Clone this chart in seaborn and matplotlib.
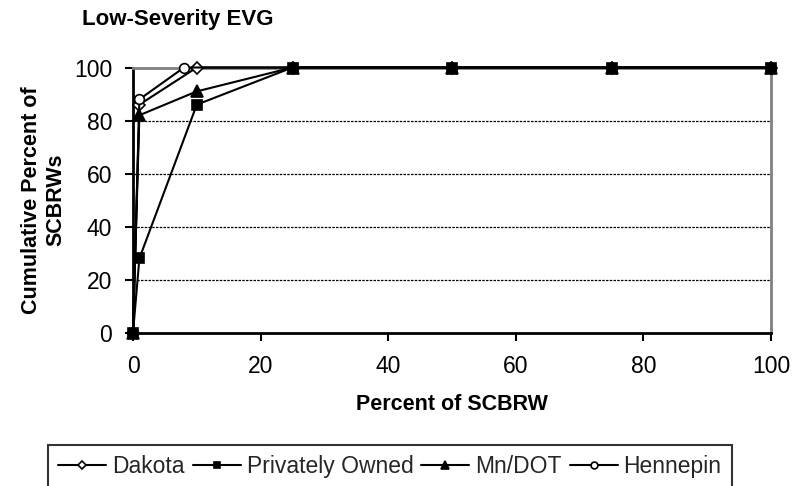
import matplotlib
matplotlib.use("Agg")
import matplotlib.pyplot as plt
import seaborn as sns
import pandas as pd

# Cumulative distribution of SCBRWs by percent of SCBRW, per owner
dakota_x = [0, 1, 10, 25, 50, 75, 100]
dakota_y = [0, 86, 100, 100, 100, 100, 100]

private_x = [0, 1, 10, 25, 50, 75, 100]
private_y = [0, 28, 86, 100, 100, 100, 100]

mndot_x = [0, 1, 10, 25, 50, 75, 100]
mndot_y = [0, 82, 91, 100, 100, 100, 100]

hennepin_x = [0, 1, 8, 25, 50, 75, 100]
hennepin_y = [0, 88, 100, 100, 100, 100, 100]

series_names = ["Dakota", "Privately Owned", "Mn/DOT", "Hennepin"]
x_ticks = [0, 20, 40, 60, 80, 100]
y_ticks = [0, 20, 40, 60, 80, 100]

sns.set_theme(style="white")
plt.rcParams["font.family"] = ["Liberation Sans", "DejaVu Sans"]

fig = plt.figure(figsize=(7.94, 4.86), dpi=100)
ax = fig.add_axes([133 / 794, 1 - 332.7 / 486, (771 - 133) / 794, (332.7 - 67.5) / 486])

styles = {
    "Dakota": dict(marker="D", markerfacecolor="white", markersize=6, zorder=3),
    "Privately Owned": dict(marker="s", markerfacecolor="black", markersize=7, zorder=6),
    "Mn/DOT": dict(marker="^", markerfacecolor="black", markersize=8, zorder=4),
    "Hennepin": dict(marker="o", markerfacecolor="white", markersize=7, zorder=5),
}
data = {
    "Dakota": (dakota_x, dakota_y),
    "Privately Owned": (private_x, private_y),
    "Mn/DOT": (mndot_x, mndot_y),
    "Hennepin": (hennepin_x, hennepin_y),
}

handles = []
for name in series_names:
    xs, ys = data[name]
    df = pd.DataFrame({"pct": xs, "cum": ys})
    st = styles[name]
    sns.lineplot(
        data=df, x="pct", y="cum", ax=ax, sort=False, color="black",
        linewidth=1.5, marker=st["marker"], markersize=st["markersize"],
        markerfacecolor=st["markerfacecolor"], markeredgecolor="black",
        markeredgewidth=1.2, zorder=st["zorder"], label=name, clip_on=False,
    )
    handles.append(ax.lines[-1])

ax.set_xlim(0, 100)
ax.set_ylim(0, 100)
ax.set_xticks(x_ticks)
ax.set_yticks(y_ticks)
ax.tick_params(axis="both", direction="out", length=6, width=1.5, color="black",
               labelsize=16.5, labelcolor="black", bottom=True, left=True)
ax.tick_params(axis="x", pad=10)
ax.tick_params(axis="y", pad=9)

for y in y_ticks[1:-1]:
    ax.axhline(y, color="black", linestyle=(0, (2, 1)), linewidth=0.9, zorder=1)

for side in ["left", "bottom"]:
    ax.spines[side].set_color("black")
    ax.spines[side].set_linewidth(2)
for side in ["top", "right"]:
    ax.spines[side].set_color("#808080")
    ax.spines[side].set_linewidth(2)
    ax.spines[side].set_visible(True)

ax.set_xlabel("Percent of SCBRW", fontsize=15.5, fontweight="bold", color="black")
ax.xaxis.set_label_coords(0.5, -0.23)
ax.set_ylabel("Cumulative Percent of\nSCBRWs", fontsize=15.5, fontweight="bold",
              color="black", linespacing=1.2)
ax.yaxis.set_label_coords(-0.105, 0.5)

if ax.get_legend() is not None:
    ax.get_legend().remove()

fig.text(82 / 794, 1 - 19.5 / 486, "Low-Severity EVG", fontsize=16,
         fontweight="bold", ha="left", va="center", color="black")

leg = fig.legend(
    handles, series_names, loc="upper left",
    bbox_to_anchor=(48 / 794, 1 - 445 / 486), ncol=4, fontsize=16.5,
    frameon=True, fancybox=False, edgecolor="black", markerscale=0.7,
    handlelength=2.1, handletextpad=0.25, columnspacing=0.35,
    borderpad=0.45, borderaxespad=0,
)
leg.get_frame().set_linewidth(1.5)

fig.savefig("out.png", dpi=100)
